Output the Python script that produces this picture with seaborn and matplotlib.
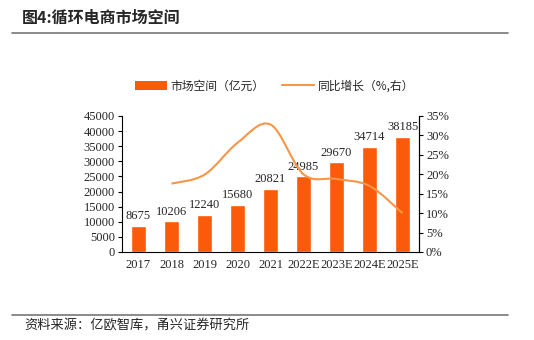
import numpy as np
import pandas as pd
import matplotlib
matplotlib.use("Agg")
import matplotlib.pyplot as plt
import seaborn as sns
from matplotlib.path import Path
from matplotlib.patches import PathPatch
from matplotlib.lines import Line2D
from matplotlib.patches import Patch

years = ["2017", "2018", "2019", "2020", "2021", "2022E", "2023E", "2024E", "2025E"]
market = [8675, 10206, 12240, 15680, 20821, 24985, 29670, 34714, 38185]
growth_years = ["2018", "2019", "2020", "2021", "2022E", "2023E", "2024E", "2025E"]
growth = [17.6, 19.9, 28.1, 32.8, 20.0, 18.8, 17.0, 10.0]

left_ticks = [0, 5000, 10000, 15000, 20000, 25000, 30000, 35000, 40000, 45000]
right_ticks = [0, 5, 10, 15, 20, 25, 30, 35]

BAR = "#FA5A0A"
LINE = "#F79646"
CJK = ["Noto Sans CJK SC", "DejaVu Sans"]
SERIF = ["Liberation Serif", "Noto Sans CJK SC"]

sns.set_style("white")
plt.rcParams["font.family"] = SERIF

fig = plt.figure(figsize=(5.34, 3.40), dpi=100)
ax = fig.add_axes([122 / 534, 1 - 252 / 340, 297 / 534, 136 / 340])

df = pd.DataFrame({"year": years, "market": market})
sns.barplot(data=df, x="year", y="market", color=BAR, saturation=1, width=0.43, ax=ax)
ax.set_xlim(-0.5, len(years) - 0.5)
ax.set_ylim(0, 45000)
ax.set_yticks(left_ticks)
ax.set_yticklabels([str(v) for v in left_ticks], fontsize=9)
ax.set_xlabel("")
ax.set_ylabel("")
ax.set_xticks(range(len(years)))
ax.set_xticklabels(years, fontsize=9)
ax.tick_params(axis="x", length=0, pad=5)
ax.set_xticks(np.arange(-0.5, len(years), 1), minor=True)
ax.tick_params(axis="x", which="minor", length=3, direction="out", width=0.8, color="black")
ax.tick_params(axis="y", length=3, direction="out", width=0.8, color="black", pad=2)
for s in ["left", "bottom", "right"]:
    ax.spines[s].set_color("black")
    ax.spines[s].set_linewidth(0.8)
ax.spines["top"].set_visible(False)

for i, v in enumerate(market):
    ax.text(i, v + 1200, str(v), ha="center", va="bottom", fontsize=9)

ax2 = ax.twinx()
ax2.set_ylim(0, 35)
ax2.set_yticks(right_ticks)
ax2.set_yticklabels([f"{v}%" for v in right_ticks], fontsize=9)
ax2.tick_params(axis="y", length=3, direction="out", width=0.8, color="black", pad=2)
for s in ["top", "left", "bottom"]:
    ax2.spines[s].set_visible(False)
ax2.spines["right"].set_color("black")
ax2.spines["right"].set_linewidth(0.8)

# smooth (Catmull-Rom style) bezier through the growth points
xs = [years.index(y) for y in growth_years]
pts = list(zip(xs, growth))
verts = [pts[0]]
codes = [Path.MOVETO]
for i in range(len(pts) - 1):
    p0 = pts[i - 1] if i > 0 else pts[i]
    p1 = pts[i]
    p2 = pts[i + 1]
    p3 = pts[i + 2] if i + 2 < len(pts) else pts[i + 1]
    c1 = (p1[0] + (p2[0] - p0[0]) / 6, p1[1] + (p2[1] - p0[1]) / 6)
    c2 = (p2[0] - (p3[0] - p1[0]) / 6, p2[1] - (p3[1] - p1[1]) / 6)
    verts += [c1, c2, p2]
    codes += [Path.CURVE4] * 3
ax2.add_patch(PathPatch(Path(verts, codes), facecolor="none", edgecolor=LINE, lw=1.5))

handles = [Patch(facecolor=BAR, edgecolor="none"), Line2D([0], [0], color=LINE, lw=1.5)]
leg = fig.legend(handles, ["市场空间（亿元）", "同比增长（%,右）"], loc="center left",
                 bbox_to_anchor=(124 / 534, 1 - 86 / 340), ncol=2, frameon=False,
                 prop={"family": CJK, "size": 8.5}, handlelength=2.7, handleheight=0.7,
                 columnspacing=1.5, handletextpad=0.35)

fig.text(22 / 534, 1 - 18 / 340, "图4:循环电商市场空间", fontsize=11.5, fontweight="bold",
         family=CJK, va="center", ha="left")
fig.add_artist(Line2D([12 / 534, 508 / 534], [1 - 33 / 340] * 2, color="#777777", lw=1.2))
fig.add_artist(Line2D([12 / 534, 508 / 534], [1 - 315 / 340] * 2, color="#777777", lw=1.2))
fig.text(24 / 534, 1 - 326 / 340, "资料来源：亿欧智库，甬兴证券研究所", fontsize=9.5, style="italic",
         family=CJK, va="center", ha="left")

fig.savefig("out.png", dpi=100)
